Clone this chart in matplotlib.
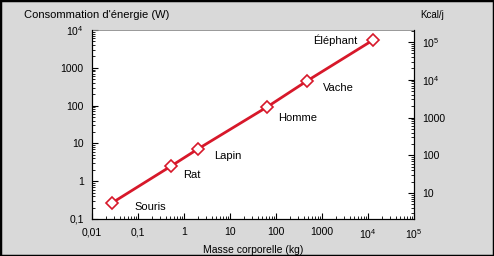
import matplotlib
matplotlib.use("Agg")
import matplotlib.pyplot as plt
from matplotlib.patches import Rectangle
from matplotlib.ticker import FixedLocator, FixedFormatter, LogLocator, NullFormatter

# données
animaux = ["Souris", "Rat", "Lapin", "Homme", "Vache", "Éléphant"]
masse_kg = [0.027, 0.52, 2.0, 64, 470, 12900]
puissance_w = [0.265, 2.5, 7.1, 92, 448, 5430]

x_ticks = [0.01, 0.1, 1, 10, 100, 1000, 1e4, 1e5]
x_labels = ["0,01", "0,1", "1", "10", "100", "1000",
            r"$\mathregular{10^4}$", r"$\mathregular{10^5}$"]
y_ticks = [0.1, 1, 10, 100, 1000, 1e4]
y_labels = ["0,1", "1", "10", "100", "1000", r"$\mathregular{10^4}$"]
kcal_ticks = [10, 100, 1000, 1e4, 1e5]
kcal_labels = ["10", "100", "1000", r"$\mathregular{10^4}$", r"$\mathregular{10^5}$"]

W_TO_KCAL_J = 86400 / 4184.0

plt.rcParams["font.family"] = ["Liberation Sans", "DejaVu Sans"]
plt.rcParams["font.size"] = 7

bg = "#d9d9d9"
red = "#d7182a"

fig = plt.figure(figsize=(4.94, 2.56), dpi=100, facecolor=bg)
ax = fig.add_axes([92 / 494, 1 - 219 / 256, 322 / 494, 189 / 256])
ax.set_facecolor("white")

ax.plot(masse_kg, puissance_w, color=red, lw=2, marker="D", ms=6,
        mfc="white", mec=red, mew=1.2, zorder=3)

ax.set_xscale("log")
ax.set_yscale("log")
ax.set_xlim(0.01, 1e5)
ax.set_ylim(0.1, 1e4)

ax.xaxis.set_major_locator(FixedLocator(x_ticks))
ax.xaxis.set_major_formatter(FixedFormatter(x_labels))
ax.yaxis.set_major_locator(FixedLocator(y_ticks))
ax.yaxis.set_major_formatter(FixedFormatter(y_labels))
ax.xaxis.set_minor_locator(LogLocator(base=10, subs=range(2, 10), numticks=20))
ax.yaxis.set_minor_locator(LogLocator(base=10, subs=range(2, 10), numticks=20))
ax.xaxis.set_minor_formatter(NullFormatter())
ax.yaxis.set_minor_formatter(NullFormatter())
ax.tick_params(which="major", direction="in", length=4, width=0.8, pad=6, labelsize=7.5)
ax.tick_params(which="minor", direction="in", length=2, width=0.6)
ax.tick_params(axis="y", right=False)

for s in ["left", "bottom"]:
    ax.spines[s].set_linewidth(0.8)
ax.spines["top"].set_color("#888888")
ax.spines["top"].set_linewidth(0.6)

ax2 = ax.twinx()
ax2.set_yscale("log")
ax2.set_ylim(0.1 * W_TO_KCAL_J, 1e4 * W_TO_KCAL_J)
ax2.yaxis.set_major_locator(FixedLocator(kcal_ticks))
ax2.yaxis.set_major_formatter(FixedFormatter(kcal_labels))
ax2.yaxis.set_minor_locator(LogLocator(base=10, subs=range(2, 10), numticks=20))
ax2.yaxis.set_minor_formatter(NullFormatter())
ax2.tick_params(which="major", direction="in", length=4, width=0.8, pad=6, labelsize=7.5)
ax2.tick_params(which="minor", direction="in", length=2, width=0.6)
ax2.spines["top"].set_visible(False)
ax2.spines["right"].set_linewidth(0.8)

# étiquettes des animaux
decal = {
    "Souris": (23, -4, "left"),
    "Rat": (12, -9, "left"),
    "Lapin": (16, -7, "left"),
    "Homme": (11, -11, "left"),
    "Vache": (16, -7, "left"),
    "Éléphant": (-16, 0, "right"),
}
for nom, m, p in zip(animaux, masse_kg, puissance_w):
    dx, dy, ha = decal[nom]
    ax.annotate(nom, (m, p), xytext=(dx, dy), textcoords="offset pixels",
                ha=ha, va="center", fontsize=8)

fig.text(24 / 494, 1 - 15 / 256, "Consommation d'énergie (W)", fontsize=8,
         ha="left", va="center")
fig.text(420 / 494, 1 - 15 / 256, "Kcal/j", fontsize=7, ha="left", va="center")
ax.set_xlabel("Masse corporelle (kg)", fontsize=7.5, labelpad=3)

fig.patches.append(Rectangle((0, 0), 1, 1, transform=fig.transFigure,
                             fill=False, edgecolor="black", lw=2.5))

fig.savefig("out.png", dpi=100, facecolor=bg)
